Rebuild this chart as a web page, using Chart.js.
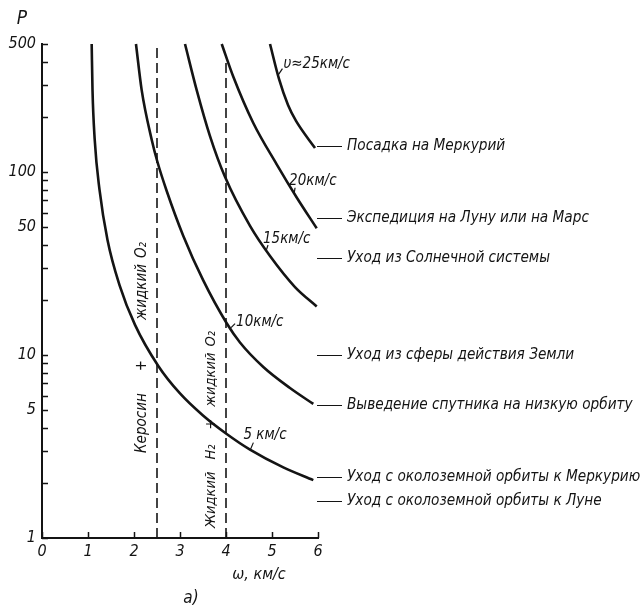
<!DOCTYPE html>
<html>
<head>
<meta charset="utf-8">
<script src="https://cdn.jsdelivr.net/npm/chart.js@4"></script>
<style>
  html, body { margin: 0; padding: 0; background: #fff; }
</style>
</head>
<body>
<canvas id="chart" width="643" height="607"></canvas>
<script>
// кривые p(ω) для разных характеристических скоростей
const omega5 = [1.08, 1.098, 1.146, 1.25, 1.424, 1.685, 2.022, 2.528, 3.0, 3.5, 4.015, 4.522, 5.246, 5.898];
const p5 = [500, 280, 150, 80, 42.5, 24.1, 14.6, 8.71, 6.16, 4.67, 3.70, 3.04, 2.43, 2.07];
const omega10 = [2.043, 2.167, 2.385, 2.507, 2.711, 3.072, 3.5, 4.015, 4.304, 4.811, 5.391, 5.898];
const p10 = [500, 280, 150, 114, 78.7, 44.7, 25.7, 14.9, 11.7, 8.6, 6.6, 5.4];
const omega15 = [3.109, 3.363, 3.652, 3.978, 4.522, 4.957, 5.5, 5.972];
const p15 = [500, 280, 157, 94, 50.7, 34.7, 23.5, 18.4];
const omega20 = [3.907, 4.159, 4.593, 5.102, 5.537, 5.972];
const p20 = [500, 331, 185, 110, 72.5, 49.2];
const omega25 = [4.957, 5.152, 5.348, 5.522, 5.935];
const p25 = [500, 322, 232, 190, 135];

// скорости истечения топлив (пунктир)
const fuelOmega = [2.5, 4.0];
const fuelTop = [500, 420];

// задачи полёта справа
const missionNames = [
  'Посадка на Меркурий',
  'Экспедиция на Луну или на Марс',
  'Уход из Солнечной системы',
  'Уход из сферы действия Земли',
  'Выведение спутника на низкую орбиту',
  'Уход с околоземной орбиты к Меркурию',
  'Уход с околоземной орбиты к Луне'
];
const missionP = [139, 56, 34, 10, 5.3, 2.15, 1.6];

const yLabelValues = [1, 5, 10, 50, 100, 500];
const yTickValues = [1, 2, 3, 4, 5, 6, 7, 8, 9, 10, 20, 30, 40, 50, 60, 70, 80, 90, 100, 200, 300, 400, 500];
const xTickValues = [0, 1, 2, 3, 4, 5, 6];

const INK = '#141414';
const FONT = '"DejaVu Sans Condensed", "Liberation Sans Narrow", "DejaVu Sans", sans-serif';

function pts(xs, ys) {
  return xs.map((v, i) => ({ x: v, y: ys[i] }));
}

function curve(xs, ys) {
  return {
    data: pts(xs, ys),
    showLine: true,
    borderColor: INK,
    borderWidth: 2.6,
    pointRadius: 0,
    cubicInterpolationMode: 'monotone',
    clip: false
  };
}

const datasets = [
  curve(omega5, p5),
  curve(omega10, p10),
  curve(omega15, p15),
  curve(omega20, p20),
  curve(omega25, p25)
];
fuelOmega.forEach((w, i) => {
  datasets.push({
    data: [{ x: w, y: 1 }, { x: w, y: fuelTop[i] }],
    showLine: true,
    borderColor: INK,
    borderWidth: 1.6,
    borderDash: [10, 5],
    pointRadius: 0,
    clip: false
  });
});

// подписи кривых: точка на кривой, сдвиг текста, засечка
const curveLabels = [
  { text: '5 км/с', x: 4.53, p: 3.04, dx: -7, dy: -15, tx: 3, ty: -7 },
  { text: '10км/с', x: 4.11, p: 14.1, dx: 5, dy: -6, tx: 4, ty: -4 },
  { text: '15км/с', x: 4.87, p: 37, dx: -3, dy: -12, tx: 2, ty: -6 },
  { text: '20км/с', x: 5.48, p: 76, dx: -5, dy: -13, tx: 1, ty: -6 },
  { text: 'υ≈25км/с', x: 5.14, p: 340, dx: 5, dy: -11, tx: 4, ty: -6 }
];

function vtext(ctx, parts, cx, bottom) {
  ctx.save();
  ctx.translate(cx, bottom);
  ctx.rotate(-Math.PI / 2);
  ctx.textAlign = 'left';
  ctx.textBaseline = 'middle';
  let pos = 0;
  parts.forEach(([t, gap]) => {
    ctx.fillText(t, pos, 0);
    pos += ctx.measureText(t).width + gap;
  });
  ctx.restore();
}

const decor = {
  id: 'decor',
  afterDatasetsDraw(chart) {
    const { ctx, chartArea: a, scales: { x, y } } = chart;
    ctx.save();
    ctx.strokeStyle = INK;
    ctx.fillStyle = INK;

    // засечки внутрь
    ctx.lineWidth = 1.5;
    ctx.beginPath();
    yTickValues.forEach(v => {
      const py = Math.round(y.getPixelForValue(v)) + 0.5;
      ctx.moveTo(a.left, py);
      ctx.lineTo(a.left + 6, py);
    });
    xTickValues.forEach(v => {
      const px = Math.round(x.getPixelForValue(v)) + 0.5;
      ctx.moveTo(px, a.bottom);
      ctx.lineTo(px, a.bottom - 6);
    });
    ctx.stroke();

    // задачи полёта
    ctx.font = 'italic 15.2px ' + FONT;
    ctx.textAlign = 'left';
    ctx.textBaseline = 'middle';
    ctx.lineWidth = 1;
    missionNames.forEach((name, i) => {
      const py = Math.round(y.getPixelForValue(missionP[i])) + 0.5;
      ctx.beginPath();
      ctx.moveTo(a.right - 1, py);
      ctx.lineTo(a.right + 24, py);
      ctx.stroke();
      ctx.fillText(name, a.right + 29, py);
    });

    // подписи кривых
    ctx.font = 'italic 15px ' + FONT;
    ctx.lineWidth = 1.2;
    curveLabels.forEach(l => {
      const px = x.getPixelForValue(l.x);
      const py = y.getPixelForValue(l.p);
      ctx.beginPath();
      ctx.moveTo(px, py);
      ctx.lineTo(px + l.tx, py + l.ty);
      ctx.stroke();
      ctx.fillText(l.text, px + l.dx, py + l.dy);
    });

    // топлива вдоль пунктира
    ctx.font = 'italic 15px ' + FONT;
    vtext(ctx, [['Керосин', 22], ['+', 40], ['жидкий', 6], ['O₂', 0]],
      x.getPixelForValue(fuelOmega[0]) - 15, a.bottom - 85);
    ctx.font = 'italic 14.5px ' + FONT;
    vtext(ctx, [['Жидкий', 12], ['H₂', 15], ['+', 12], ['жидкий', 6], ['O₂', 0]],
      x.getPixelForValue(fuelOmega[1]) - 15, a.bottom - 10);

    // названия осей
    ctx.textAlign = 'center';
    ctx.font = 'italic 19px ' + FONT;
    ctx.fillText('P', 22, 19);
    ctx.font = 'italic 16px ' + FONT;
    ctx.fillText('ω, км/с', 259, a.bottom + 37);
    ctx.font = 'italic 17px ' + FONT;
    ctx.fillText('а)', 191, a.bottom + 61);
    ctx.restore();
  }
};

new Chart(document.getElementById('chart'), {
  type: 'scatter',
  data: { datasets },
  options: {
    responsive: false,
    animation: false,
    layout: { padding: { left: 0, top: 44, right: 325, bottom: 0 } },
    plugins: { legend: { display: false }, tooltip: { enabled: false } },
    scales: {
      x: {
        type: 'linear',
        min: 0,
        max: 6,
        afterBuildTicks: s => { s.ticks = xTickValues.map(v => ({ value: v })); },
        afterFit: s => { s.height = 69; },
        grid: { display: false, drawTicks: false },
        border: { color: INK, width: 2 },
        ticks: {
          color: INK,
          padding: 4,
          font: { family: FONT, size: 16, style: 'italic' }
        }
      },
      y: {
        type: 'logarithmic',
        min: 1,
        max: 500,
        afterBuildTicks: s => { s.ticks = yTickValues.map(v => ({ value: v })); },
        afterFit: s => { s.width = 42; },
        grid: { display: false, drawTicks: false },
        border: { color: INK, width: 2 },
        ticks: {
          color: INK,
          padding: 6,
          autoSkip: false,
          font: { family: FONT, size: 16, style: 'italic' },
          callback: v => yLabelValues.includes(v) ? String(v) : ''
        }
      }
    }
  },
  plugins: [decor]
});
</script>
</body>
</html>
